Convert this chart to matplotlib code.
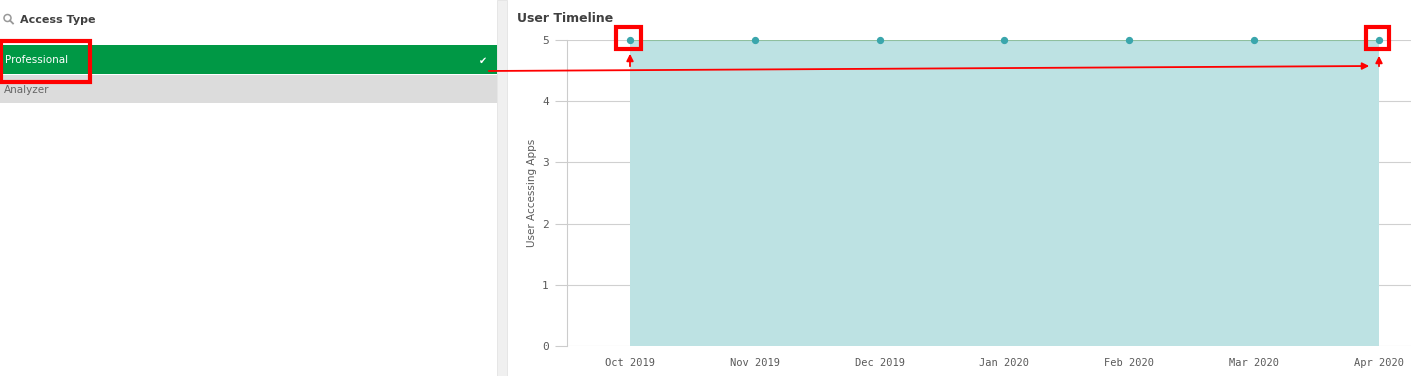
import matplotlib.pyplot as plt
from matplotlib.patches import Rectangle, FancyArrowPatch, Ellipse
from matplotlib.lines import Line2D

months = ["Oct 2019", "Nov 2019", "Dec 2019", "Jan 2020", "Feb 2020", "Mar 2020", "Apr 2020"]
users = [5, 5, 5, 5, 5, 5, 5]
y_ticks = [0, 1, 2, 3, 4, 5]
access_types = ["Professional", "Analyzer"]

W, H = 1411, 376
fig = plt.figure(figsize=(W / 100, H / 100), dpi=100)
fig.patch.set_facecolor("white")


def fx(px):
    return px / W


def fy(py):
    return 1 - py / H


# left filter panel
fig.text(fx(20), fy(20), "Access Type", fontsize=8, fontweight="bold", color="#404040",
         va="center", ha="left")
# magnifier icon
fig.add_artist(Ellipse((fx(7.5), fy(18)), 7 / W, 7 / H, transform=fig.transFigure,
                       facecolor="none", edgecolor="#999999", linewidth=1.1))
fig.add_artist(Line2D([fx(10), fx(13)], [fy(20.5), fy(23.5)], transform=fig.transFigure,
                      color="#999999", linewidth=1.3))
fig.add_artist(Rectangle((0, fy(74)), fx(497), fy(45) - fy(74), transform=fig.transFigure,
                         facecolor="#009845", edgecolor="none"))
fig.add_artist(Rectangle((0, fy(103)), fx(497), fy(75) - fy(103), transform=fig.transFigure,
                         facecolor="#dcdcdc", edgecolor="none"))
fig.text(fx(5), fy(60), access_types[0], fontsize=7.5, color="white", va="center", ha="left")
fig.text(fx(483), fy(61), "\u2714", fontsize=7, color="white", va="center", ha="center",
         family=["DejaVu Sans"])
fig.text(fx(4), fy(90), access_types[1], fontsize=7.5, color="#666666", va="center", ha="left")

# separator between panels
fig.add_artist(Rectangle((fx(497), 0), fx(10), 1, transform=fig.transFigure,
                         facecolor="#f0f0f0", edgecolor="#e0e0e0", linewidth=0.5))

# chart
fig.text(fx(517), fy(18), "User Timeline", fontsize=9, fontweight="bold", color="#404040",
         va="center", ha="left")

ax = fig.add_axes([fx(567), fy(346), fx(1411) - fx(567), fy(40) - fy(346)])
x = list(range(len(months)))
ax.fill_between(x, 0, users, color="#bde2e3", linewidth=0, zorder=2)
ax.plot(x, users, color="#8fbf9f", linewidth=0.8, zorder=3)
ax.scatter(x, users, s=18, color="#3aa6ac", zorder=4, clip_on=False)

ax.set_xlim(-0.505, 6.26)
ax.set_ylim(0, 5)
ax.set_xticks(x)
ax.set_xticklabels(months)
ax.set_yticks(y_ticks)
ax.grid(axis="y", color="#d0d0d0", linewidth=0.8, zorder=1)
for s in ["top", "right", "bottom"]:
    ax.spines[s].set_visible(False)
ax.spines["left"].set_color("#cccccc")
ax.tick_params(axis="x", length=0, pad=9, labelsize=7.5, labelcolor="#595959")
ax.tick_params(axis="y", length=9, color="#cccccc", pad=4, labelsize=8, labelcolor="#595959")
for lab in ax.get_xticklabels() + ax.get_yticklabels():
    lab.set_family("DejaVu Sans Mono")
ax.set_ylabel("User Accessing Apps", fontsize=7.5, color="#595959", labelpad=4)

# red annotations
red = "#ff0000"
for (x0, y0, x1, y1) in [(1, 41, 90, 82), (616, 27, 641, 49), (1366, 27, 1389, 49)]:
    fig.add_artist(Rectangle((fx(x0), fy(y1)), fx(x1) - fx(x0), fy(y0) - fy(y1),
                             transform=fig.transFigure, facecolor="none", edgecolor=red,
                             linewidth=3))
arrows = [((486, 71), (1372, 66)), ((630, 69), (630, 51)), ((1379, 69), (1379, 53))]
for (a, b) in arrows:
    fig.add_artist(FancyArrowPatch((fx(a[0]), fy(a[1])), (fx(b[0]), fy(b[1])),
                                   transform=fig.transFigure, arrowstyle="-|>",
                                   mutation_scale=10, color=red, linewidth=1.3))

fig.savefig("out.png", dpi=100)
